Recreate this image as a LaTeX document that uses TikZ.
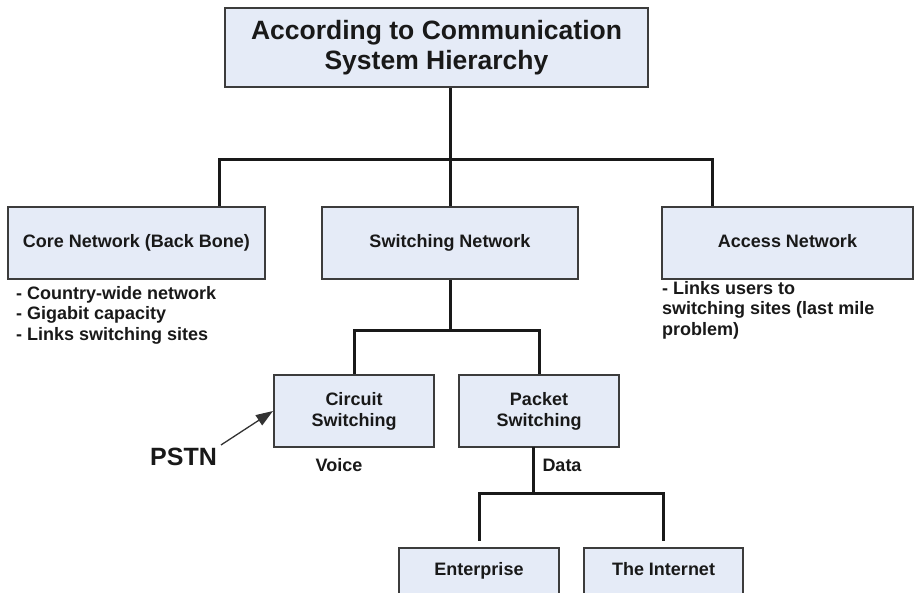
\documentclass[tikz,border=0pt]{standalone}
\usepackage{fontspec}
\setmainfont{Liberation Sans}
\usetikzlibrary{arrows.meta}
\definecolor{boxfill}{RGB}{229,235,247}
\definecolor{boxline}{RGB}{60,60,60}
\definecolor{txt}{RGB}{25,25,25}
\tikzset{
  box/.style={draw=boxline, line width=2pt, fill=boxfill, rectangle, inner sep=0pt, align=center, text=txt,
    font=\bfseries\fontsize{18}{21}\selectfont},
  lblfix/.style={text height=13pt, text depth=4pt},
  conn/.style={draw=black!90, line width=3pt},
  note/.style={inner sep=0pt, text=txt, align=left, font=\bfseries\fontsize{18}{20.5}\selectfont},
}
\begin{document}
\begin{tikzpicture}[x=1pt,y=-1pt]
\useasboundingbox (0,0) rectangle (915,592);
\clip (0,0) rectangle (915,592);
\fill[white] (0,0) rectangle (915,592);

% boxes
\node[box, minimum width=423, minimum height=79, font=\bfseries\fontsize{26.5}{30}\selectfont] (title) at (436.5,47.5) {According to Communication\\System Hierarchy};
\node[box, lblfix, minimum width=257, minimum height=72] (core) at (136.5,243) {Core Network (Back Bone)};
\node[box, lblfix, minimum width=256, minimum height=72] (sw) at (450,243) {Switching Network};
\node[box, lblfix, minimum width=251, minimum height=72] (acc) at (787.5,243) {Access Network};
\node[box, minimum width=160, minimum height=72] (cs) at (354,411) {Circuit\\Switching};
\node[box, minimum width=160, minimum height=72] (ps) at (539,411) {Packet\\Switching};
\node[box, minimum width=160, minimum height=72] (ent) at (479,584) {};
\node[box, minimum width=159, minimum height=72] (inet) at (663.5,584) {};
\node[note, lblfix, anchor=center] (entl) at (479,571) {Enterprise};
\node[note, lblfix, anchor=center] (inetl) at (663.5,571) {The Internet};

% notes
\node[note, anchor=north west] (coren) at (16,286) {- Country-wide network\\- Gigabit capacity\\- Links switching sites};
\node[note, anchor=north west] (accn) at (662,281) {- Links users to\\switching sites (last mile\\problem)};
\node[note, lblfix, anchor=center] (voice) at (339,467) {Voice};
\node[note, lblfix, anchor=center] (data) at (562,467) {Data};
\node[note, anchor=center, font=\bfseries\fontsize{25}{28}\selectfont] (pstn) at (183.5,457) {PSTN};

% small mark on core box top edge
\draw[line width=2.5pt, boxline] (130,207) -- (156,207);

% connectors
\coordinate (tj) at (450,159);
\coordinate (cl) at (219,159);
\coordinate (cr) at (712,159);
\draw[conn] (title.south -| tj) -- (tj);
\draw[conn, line cap=rect] (cl) -- (cr);
\draw[conn] (cl) -- (cl |- core.north);
\draw[conn] (tj) -- (sw.north);
\draw[conn] (cr) -- (cr |- acc.north);

\coordinate (sj) at (450,330);
\draw[conn] (sw.south) -- (sj);
\draw[conn, line cap=rect] (sj -| cs.north) -- (sj -| ps.north);
\draw[conn] (sj -| cs.north) -- (cs.north);
\draw[conn] (sj -| ps.north) -- (ps.north);

\coordinate (pb) at (533,447);
\coordinate (pj) at (533,493);
\coordinate (el) at (479,493);
\coordinate (er) at (663.5,493);
\draw[conn] (pb) -- (pj);
\draw[conn, line cap=rect] (el) -- (er);
\draw[conn, shorten >=6pt] (el) -- (ent.north);
\draw[conn, shorten >=6pt] (er) -- (inet.north);

% PSTN arrow
\draw[line width=1.3pt, draw=black!80, -{Triangle[length=17pt,width=12pt]}] ([xshift=4pt,yshift=3pt]pstn.north east) -- (cs.west);
\end{tikzpicture}
\end{document}
